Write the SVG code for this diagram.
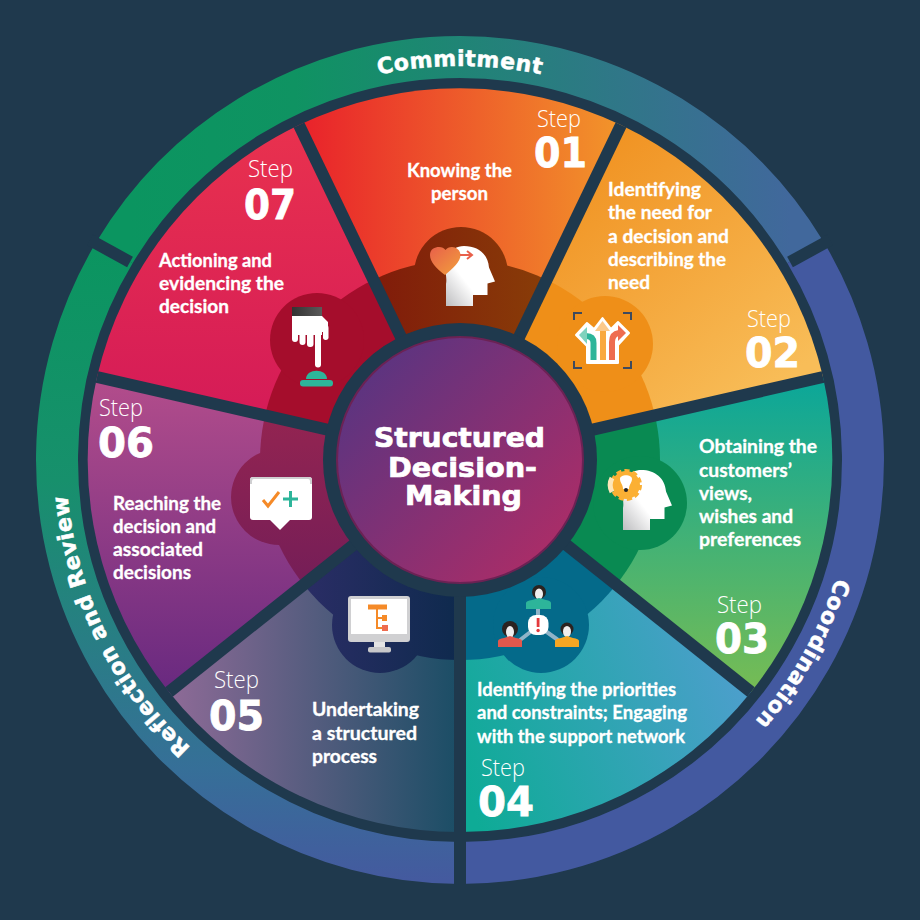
<svg xmlns="http://www.w3.org/2000/svg" xmlns:xlink="http://www.w3.org/1999/xlink" width="920" height="920" viewBox="0 0 920 920">
<style>
.step{font:300 24px "Open Sans","Noto Sans",sans-serif;fill:#fff}
.num{font:700 41px "DejaVu Sans",sans-serif;fill:#fff;stroke:#fff;stroke-width:.8}
.lab{font:700 18.300px "Lato","Open Sans",sans-serif;fill:#fff;stroke:#fff;stroke-width:.3}
.title{font:700 26px "DejaVu Sans",sans-serif;fill:#fff;stroke:#fff;stroke-width:.7;text-anchor:middle}
.ring{font:700 22px "DejaVu Sans",sans-serif;fill:#fff;stroke:#fff;stroke-width:.5;text-anchor:middle;letter-spacing:.5px}
.sep{stroke:#1f394d;stroke-width:12;fill:none}
.arc{fill:none;stroke-width:42}
</style>
<defs>
<linearGradient id="g1" gradientUnits="userSpaceOnUse" x1="305" y1="0" x2="615" y2="0"><stop offset="0" stop-color="#e9232b"/><stop offset="1" stop-color="#f2932a"/></linearGradient>
<linearGradient id="g2" gradientUnits="userSpaceOnUse" x1="560" y1="150" x2="760" y2="400"><stop offset="0" stop-color="#f0901f"/><stop offset="1" stop-color="#f8bd58"/></linearGradient>
<linearGradient id="g3" gradientUnits="userSpaceOnUse" x1="720" y1="385" x2="720" y2="690"><stop offset="0" stop-color="#0da798"/><stop offset="1" stop-color="#76bc54"/></linearGradient>
<linearGradient id="g4" gradientUnits="userSpaceOnUse" x1="465" y1="790" x2="740" y2="690"><stop offset="0" stop-color="#0eab96"/><stop offset="1" stop-color="#4b9fcb"/></linearGradient>
<linearGradient id="g5" gradientUnits="userSpaceOnUse" x1="175" y1="0" x2="455" y2="0"><stop offset="0" stop-color="#8c6a96"/><stop offset="1" stop-color="#1c4e66"/></linearGradient>
<linearGradient id="g6" gradientUnits="userSpaceOnUse" x1="0" y1="385" x2="0" y2="685"><stop offset="0" stop-color="#b14c8b"/><stop offset="1" stop-color="#6a2a80"/></linearGradient>
<linearGradient id="g7" gradientUnits="userSpaceOnUse" x1="0" y1="130" x2="0" y2="430"><stop offset="0" stop-color="#e8314e"/><stop offset="1" stop-color="#d41a58"/></linearGradient>
<linearGradient id="b5" gradientUnits="userSpaceOnUse" x1="300" y1="0" x2="455" y2="0"><stop offset="0" stop-color="#2b2d66"/><stop offset="1" stop-color="#0f2a4e"/></linearGradient>
<linearGradient id="b6" gradientUnits="userSpaceOnUse" x1="0" y1="390" x2="0" y2="600"><stop offset="0" stop-color="#982550"/><stop offset="1" stop-color="#721d58"/></linearGradient>
<linearGradient id="b1" gradientUnits="userSpaceOnUse" x1="380" y1="0" x2="540" y2="0"><stop offset="0" stop-color="#811c0a"/><stop offset="1" stop-color="#883c08"/></linearGradient>
<linearGradient id="cc" gradientUnits="userSpaceOnUse" x1="360" y1="380" x2="550" y2="550"><stop offset="0" stop-color="#5c3480"/><stop offset="1" stop-color="#a92d68"/></linearGradient>
<linearGradient id="r1" gradientUnits="userSpaceOnUse" x1="130" y1="0" x2="790" y2="0"><stop offset="0" stop-color="#0b9560"/><stop offset=".25" stop-color="#0f9362"/><stop offset="1" stop-color="#41689c"/></linearGradient>
<linearGradient id="r3" gradientUnits="userSpaceOnUse" x1="0" y1="250" x2="0" y2="880"><stop offset="0" stop-color="#0b9560"/><stop offset=".365" stop-color="#17906c"/><stop offset=".825" stop-color="#366f98"/><stop offset="1" stop-color="#445a9f"/></linearGradient>
<linearGradient id="headg" x1="0" y1="1" x2=".42" y2=".6"><stop offset="0" stop-color="#bdbdbf"/><stop offset="1" stop-color="#fff"/></linearGradient>
<linearGradient id="heartg" x1="0" y1="0" x2="1" y2="1"><stop offset="0" stop-color="#e8604a"/><stop offset="1" stop-color="#f2a03c"/></linearGradient>
<linearGradient id="cuff" x1="0" y1="0" x2="1" y2="0"><stop offset="0" stop-color="#333"/><stop offset="1" stop-color="#5a5a5a"/></linearGradient>
<clipPath id="c1"><path d="M460 460L299 125A372 372 0 0 1 621 125Z"/></clipPath>
<clipPath id="c2"><path d="M460 460L621 125A372 372 0 0 1 823 377Z"/></clipPath>
<clipPath id="c3"><path d="M460 460L823 377A372 372 0 0 1 751 692Z"/></clipPath>
<clipPath id="c4"><path d="M460 460L751 692A372 372 0 0 1 460 832Z"/></clipPath>
<clipPath id="c5"><path d="M460 460L460 832A372 372 0 0 1 169 692Z"/></clipPath>
<clipPath id="c6"><path d="M460 460L169 692A372 372 0 0 1 97 377Z"/></clipPath>
<clipPath id="c7"><path d="M460 460L97 377A372 372 0 0 1 299 125Z"/></clipPath>
<path id="head" d="M1 60H28V49H42.500V37.500L50 35.500L44 21.500C43 8 33 0 19 0C8 0 .5 9 .5 21C.5 29 2 33 1 38Z" fill="url(#headg)"/>
<path id="p1" d="M263 118.800A394 394 0 0 1 657 118.800"/>
<path id="p2" d="M847.400 388.200A394 394 0 0 1 598 829"/>
<path id="p3" d="M299.800 819.900A394 394 0 0 1 77.700 364.700"/>
</defs>
<rect width="920" height="920" fill="#1f394d"/>

<g id="outer-ring">
<path class="arc" stroke="url(#r1)" d="M114.600 252.400A403 403 0 0 1 805.400 252.400"/>
<path class="arc" stroke="#4359a0" d="M805.400 252.400A403 403 0 0 1 460 863"/>
<path class="arc" stroke="url(#r3)" d="M460 863A403 403 0 0 1 114.600 252.400"/>
<text class="ring"><textPath xlink:href="#p1" href="#p1" startOffset="50%">Commitment</textPath></text>
<text class="ring"><textPath xlink:href="#p2" href="#p2" startOffset="50%">Coordination</textPath></text>
<text class="ring"><textPath xlink:href="#p3" href="#p3" startOffset="50%">Reflection and Review</textPath></text>
</g>

<g id="step-1">
<path d="M460 460L299 125A372 372 0 0 1 621 125Z" fill="url(#g1)"/>
<g clip-path="url(#c1)" fill="url(#b1)"><circle cx="460" cy="460" r="200"/><circle cx="461" cy="274" r="47"/></g>
<use xlink:href="#head" href="#head" x="445" y="246"/>
<path d="M445 275C436 268 430 262 430 255C430 249 435 247 439 247C442 247 444 248 445.500 250C447 248 449 247 452 247C456 247 460.500 250 460.500 255C460.500 262 453 268 445 275Z" fill="url(#heartg)"/>
<path d="M460 255H471M467 251L472 255L467 259" stroke="#e8604a" stroke-width="2" fill="none"/>
<text class="step" x="537" y="127" textLength="44" lengthAdjust="spacingAndGlyphs">Step</text>
<text class="num" x="534" y="167" textLength="53" lengthAdjust="spacingAndGlyphs">01</text>
<text class="lab"><tspan x="407" y="177" textLength="105" lengthAdjust="spacingAndGlyphs">Knowing the</tspan><tspan x="431" y="200" textLength="57" lengthAdjust="spacingAndGlyphs">person</tspan></text>
</g>

<g id="step-2">
<path d="M460 460L621 125A372 372 0 0 1 823 377Z" fill="url(#g2)"/>
<g clip-path="url(#c2)" fill="#ef8f18"><circle cx="460" cy="460" r="200"/><circle cx="605" cy="344" r="48"/></g>
<path d="M574 320V313H582M623 313H631V320M574 361V368H582M623 368H631V361" stroke="#3d4a5e" stroke-width="2" fill="none"/>
<path d="M576 335L587 323L594 329L602.500 318L611 329L618 322L629 333L618 345V363H587V346Z" fill="#fff" stroke="#fff" stroke-width="2" stroke-linejoin="round"/>
<path d="M593.500 360V343Q593.500 336 586 336" stroke="#2db59a" stroke-width="6" fill="none"/>
<path d="M579 335L587 327V344Z" fill="#7fd2bd"/>
<rect x="600" y="329" width="6" height="31" fill="#f9a93f"/>
<path d="M602.500 321L610 331H595Z" fill="#fbc98b"/>
<path d="M612 360V342Q612 334 619 333" stroke="#ee6c50" stroke-width="6" fill="none"/>
<path d="M626 333L618 325V341Z" fill="#ee6c50"/>
<text class="step" x="747" y="327" textLength="44" lengthAdjust="spacingAndGlyphs">Step</text>
<text class="num" x="745" y="367" textLength="55" lengthAdjust="spacingAndGlyphs">02</text>
<text class="lab"><tspan x="608" y="196" textLength="93" lengthAdjust="spacingAndGlyphs">Identifying</tspan><tspan x="608" y="219" textLength="104" lengthAdjust="spacingAndGlyphs">the need for</tspan><tspan x="608" y="243" textLength="121" lengthAdjust="spacingAndGlyphs">a decision and</tspan><tspan x="608" y="266" textLength="118" lengthAdjust="spacingAndGlyphs">describing the</tspan><tspan x="608" y="289" textLength="42" lengthAdjust="spacingAndGlyphs">need</tspan></text>
</g>

<g id="step-3">
<path d="M460 460L823 377A372 372 0 0 1 751 692Z" fill="url(#g3)"/>
<g clip-path="url(#c3)" fill="#098a52"><circle cx="460" cy="460" r="200"/><circle cx="640" cy="503" r="47"/></g>
<use xlink:href="#head" href="#head" x="622" y="470"/>
<circle cx="626" cy="485" r="14" fill="#fbb034" stroke="#fbb034" stroke-width="4" stroke-dasharray="5 3"/>
<path d="M612 478A15 15 0 0 0 612 492" stroke="#fde6b8" stroke-width="5" fill="none"/>
<path d="M620 479C620 474 632 474 632 479C632 483 629 484 629 489H623C623 484 620 483 620 479Z" fill="#fff"/>
<circle cx="626" cy="490" r="2" fill="#222"/>
<text class="step" x="717" y="613" textLength="45" lengthAdjust="spacingAndGlyphs">Step</text>
<text class="num" x="715" y="653" textLength="54" lengthAdjust="spacingAndGlyphs">03</text>
<text class="lab"><tspan x="699" y="453" textLength="118" lengthAdjust="spacingAndGlyphs">Obtaining the</tspan><tspan x="699" y="477" textLength="93" lengthAdjust="spacingAndGlyphs">customers’</tspan><tspan x="699" y="500" textLength="53" lengthAdjust="spacingAndGlyphs">views,</tspan><tspan x="699" y="523" textLength="94" lengthAdjust="spacingAndGlyphs">wishes and</tspan><tspan x="699" y="546" textLength="102" lengthAdjust="spacingAndGlyphs">preferences</tspan></text>
</g>

<g id="step-4">
<path d="M460 460L751 692A372 372 0 0 1 460 832Z" fill="url(#g4)"/>
<g clip-path="url(#c4)" fill="#046a8a"><circle cx="460" cy="460" r="200"/><circle cx="541" cy="625" r="48"/></g>
<path d="M538 605V618M520 640L533 630M558 640L544 630" stroke="#8fb4c8" stroke-width="4"/>
<rect x="528" y="615" width="20.500" height="20" rx="8" fill="#fff"/>
<rect x="536.700" y="618" width="2.800" height="9" fill="#e4393c"/><circle cx="538.100" cy="630.500" r="1.700" fill="#e4393c"/>
<circle cx="539" cy="592" r="7" fill="#2b2320"/><ellipse cx="539" cy="594" rx="4" ry="5.500" fill="#eee"/>
<path d="M526 609V603Q526 601 532 600L539 598L546 600Q551 601 551 603V609Z" fill="#2db59a"/>
<circle cx="510" cy="629" r="8" fill="#2b2320"/><ellipse cx="510" cy="632" rx="4" ry="6" fill="#eee"/>
<path d="M498 647V641Q498 639 504 638L510 636L516 638Q522 639 522 641V647Z" fill="#e2574c"/>
<circle cx="567" cy="629" r="6.500" fill="#2b2320"/><ellipse cx="567" cy="631.500" rx="4" ry="5.500" fill="#eee"/>
<path d="M555 647V641Q555 639 561 638L567 636L573 638Q579 639 579 641V647Z" fill="#f5a623"/>
<text class="step" x="481" y="776" textLength="44" lengthAdjust="spacingAndGlyphs">Step</text>
<text class="num" x="478" y="816" textLength="56" lengthAdjust="spacingAndGlyphs">04</text>
<text class="lab"><tspan x="477" y="696" textLength="199" lengthAdjust="spacingAndGlyphs">Identifying the priorities</tspan><tspan x="477" y="719" textLength="210" lengthAdjust="spacingAndGlyphs">and constraints; Engaging</tspan><tspan x="477" y="743" textLength="208" lengthAdjust="spacingAndGlyphs">with the support network</tspan></text>
</g>

<g id="step-5">
<path d="M460 460L460 832A372 372 0 0 1 169 692Z" fill="url(#g5)"/>
<g clip-path="url(#c5)" fill="url(#b5)"><circle cx="460" cy="460" r="200"/><circle cx="380" cy="625" r="48"/></g>
<rect x="348" y="596" width="62" height="46" rx="3" fill="#d0d0d2"/>
<rect x="351" y="599" width="56" height="35" fill="#fff"/>
<rect x="374" y="642" width="11" height="5" fill="#e4e4e4"/><rect x="368" y="647" width="23" height="5.500" rx="2" fill="#c8c8ca"/>
<path d="M377 606V629M377 618H382M377 628H382" stroke="#f58a28" stroke-width="2" fill="none"/>
<path d="M368 607H387" stroke="#f58a28" stroke-width="5"/>
<rect x="382" y="615" width="5" height="6" fill="#f58a28"/><rect x="382" y="625" width="6" height="6" fill="#ee6c50"/>
<text class="step" x="214" y="688" textLength="45" lengthAdjust="spacingAndGlyphs">Step</text>
<text class="num" x="209" y="730" textLength="55" lengthAdjust="spacingAndGlyphs">05</text>
<text class="lab"><tspan x="312" y="716" textLength="107" lengthAdjust="spacingAndGlyphs">Undertaking</tspan><tspan x="312" y="740" textLength="105" lengthAdjust="spacingAndGlyphs">a structured</tspan><tspan x="312" y="763" textLength="65" lengthAdjust="spacingAndGlyphs">process</tspan></text>
</g>

<g id="step-6">
<path d="M460 460L169 692A372 372 0 0 1 97 377Z" fill="url(#g6)"/>
<g clip-path="url(#c6)" fill="url(#b6)"><circle cx="460" cy="460" r="200"/><circle cx="279" cy="497" r="48"/></g>
<rect x="250" y="477" width="62" height="43" rx="3" fill="#fff"/>
<path d="M250 480a3 3 0 0 1 3-3h56a3 3 0 0 1 3 3v4h-2v-3a2 2 0 0 0-2-2h-54a2 2 0 0 0-2 2v3h-2Z" fill="#cfcfd1"/>
<path d="M270 520L280 530L290 520Z" fill="#fff"/>
<path d="M263 500L268 506L279 492" stroke="#f58a28" stroke-width="3" fill="none"/>
<path d="M290.500 491V507M283 499H298" stroke="#2db59a" stroke-width="3"/>
<text class="step" x="99" y="416" textLength="44" lengthAdjust="spacingAndGlyphs">Step</text>
<text class="num" x="98" y="457" textLength="56" lengthAdjust="spacingAndGlyphs">06</text>
<text class="lab"><tspan x="113" y="510" textLength="108" lengthAdjust="spacingAndGlyphs">Reaching the</tspan><tspan x="113" y="533" textLength="103" lengthAdjust="spacingAndGlyphs">decision and</tspan><tspan x="113" y="556" textLength="90" lengthAdjust="spacingAndGlyphs">associated</tspan><tspan x="113" y="579" textLength="78" lengthAdjust="spacingAndGlyphs">decisions</tspan></text>
</g>

<g id="step-7">
<path d="M460 460L97 377A372 372 0 0 1 299 125Z" fill="url(#g7)"/>
<g clip-path="url(#c7)" fill="#a50d2c"><circle cx="460" cy="460" r="200"/><circle cx="317" cy="340" r="47"/></g>
<rect x="292" y="307" width="30" height="9" fill="url(#cuff)"/>
<g fill="#fff"><path d="M292 316H322L328 322V332H322V335H292Z"/><rect x="292" y="325" width="6" height="17" rx="3"/><rect x="299.500" y="325" width="6" height="20" rx="3"/><rect x="307" y="325" width="6.500" height="22" rx="3"/><rect x="315" y="325" width="6" height="42.500" rx="3"/><rect x="323" y="325" width="5.500" height="15" rx="2.700"/></g>
<path d="M306 379C306 368 327 368 327 379Z" fill="#2db59a"/>
<rect x="300" y="380" width="33" height="6.500" rx="3" fill="#2db59a"/>
<text class="step" x="248" y="177" textLength="45" lengthAdjust="spacingAndGlyphs">Step</text>
<text class="num" x="244" y="219" textLength="52" lengthAdjust="spacingAndGlyphs">07</text>
<text class="lab"><tspan x="159" y="267" textLength="113" lengthAdjust="spacingAndGlyphs">Actioning and</tspan><tspan x="159" y="290" textLength="125" lengthAdjust="spacingAndGlyphs">evidencing the</tspan><tspan x="159" y="313" textLength="70" lengthAdjust="spacingAndGlyphs">decision</tspan></text>
</g>

<g id="connectors">
<path class="sep" d="M460 460L621 125"/>
<path class="sep" d="M460 460L823 377"/>
<path class="sep" d="M460 460L751 692"/>
<path class="sep" d="M460 460L460 884"/>
<path class="sep" d="M460 460L169 692"/>
<path class="sep" d="M460 460L97 377"/>
<path class="sep" d="M460 460L299 125"/>
<path class="sep" d="M790 262L830 240"/>
<path class="sep" d="M130 262L90 240"/>
</g>

<g id="centre">
<circle cx="460" cy="460" r="137" fill="#1f394d"/>
<circle cx="460" cy="460" r="123" fill="url(#cc)" stroke="#6b2254" stroke-width="2"/>
<text class="title"><tspan x="459.500" y="447" textLength="171" lengthAdjust="spacingAndGlyphs">Structured</tspan><tspan x="462.500" y="477" textLength="149" lengthAdjust="spacingAndGlyphs">Decision-</tspan><tspan x="463.500" y="505" textLength="117" lengthAdjust="spacingAndGlyphs">Making</tspan></text>
</g>
</svg>
